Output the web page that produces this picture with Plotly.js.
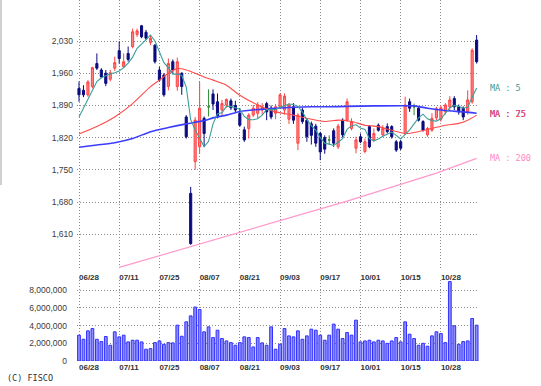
<!DOCTYPE html>
<html>
<head>
<meta charset="utf-8">
<script src="https://cdn.plot.ly/plotly-3.0.1.min.js"></script>
<style>html,body{margin:0;padding:0;background:#fff}#chart{width:541px;height:386px}</style>
</head>
<body>
<div id="chart"></div>
<script>
// Trading days (2024)
const dates = [
 '06/28','07/01','07/02','07/03','07/04','07/05','07/08','07/09','07/10','07/11',
 '07/12','07/16','07/17','07/18','07/19','07/22','07/23','07/24','07/25',
 '07/26','07/29','07/30','07/31','08/01','08/02','08/05','08/06','08/07',
 '08/08','08/09','08/13','08/14','08/15','08/16','08/19','08/20','08/21',
 '08/22','08/23','08/26','08/27','08/28','08/29','08/30','09/02','09/03',
 '09/04','09/05','09/06','09/09','09/10','09/11','09/12','09/13','09/17',
 '09/18','09/19','09/20','09/24','09/25','09/26','09/27','09/30','10/01',
 '10/02','10/03','10/04','10/07','10/08','10/09','10/10','10/11','10/15',
 '10/16','10/17','10/18','10/21','10/22','10/23','10/24','10/25','10/28',
 '10/29','10/30','10/31','11/01','11/05','11/06','11/07','11/08'
];
const tickDates = ['06/28','07/11','07/25','08/07','08/21','09/03','09/17','10/01','10/15','10/28'];

const open = [1927,1923,1913,1931,1981,1967,1960,1947,1971,2009,
 1974,2003,2018,2044,2063,2049,2027,2021,1967,
 1956,1931,1985,1931,1960,1865,1699,1768,1800,
 1862,1887,1915,1898,1880,1891,1900,1890,1873,
 1837,1840,1869,1873,1880,1894,1884,1873,1887,
 1880,1860,1887,1808,1880,1858,1850,1845,1829,
 1820,1815,1835,1800,1858,1858,1840,1797,1822,
 1790,1844,1815,1847,1826,1844,1844,1811,1811,
 1829,1898,1887,1884,1855,1826,1836,1863,1860,
 1876,1887,1905,1887,1884,1876,1898,2032];
const high = [1942,1934,1945,1974,2003,1971,1967,1967,1996,2029,
 2003,2018,2057,2057,2065,2054,2043,2023,1974,
 1960,1992,1990,1994,1962,1869,1713,1865,1941,
 1866,1925,1925,1916,1902,1905,1905,1900,1884,
 1844,1873,1891,1897,1895,1898,1890,1893,1916,
 1916,1895,1895,1873,1885,1862,1855,1850,1833,
 1825,1825,1840,1850,1862,1905,1862,1822,1829,
 1818,1847,1840,1851,1847,1851,1847,1815,1815,
 1909,1905,1894,1887,1858,1843,1873,1887,1890,
 1895,1910,1910,1892,1888,1923,2014,2043];
const low = [1898,1908,1909,1927,1967,1949,1932,1942,1965,1981,
 1971,1985,2014,2039,2036,2032,2021,1981,1942,
 1909,1923,1960,1922,1913,1818,1587,1750,1786,
 1800,1866,1880,1862,1869,1885,1880,1875,1844,
 1811,1818,1865,1862,1870,1858,1860,1860,1884,
 1870,1850,1850,1793,1850,1811,1805,1800,1771,
 1785,1805,1800,1795,1820,1855,1836,1786,1808,
 1786,1797,1811,1833,1822,1829,1818,1789,1793,
 1826,1876,1869,1855,1833,1822,1833,1858,1855,
 1870,1880,1880,1870,1858,1870,1894,1981];
const close = [1913,1913,1941,1972,1971,1952,1938,1961,1983,1992,
 1985,1990,2050,2052,2039,2036,2036,1985,1945,
 1913,1981,1967,1985,1931,1822,1590,1858,1884,
 1829,1887,1893,1865,1894,1903,1885,1880,1847,
 1815,1869,1884,1891,1887,1876,1865,1887,1913,
 1910,1890,1858,1869,1855,1822,1825,1808,1789,
 1795,1815,1808,1845,1826,1898,1855,1815,1811,
 1811,1800,1829,1836,1840,1833,1822,1793,1797,
 1891,1884,1887,1858,1836,1840,1862,1883,1885,
 1891,1902,1887,1876,1865,1902,2010,1985];
const volume = [2.92,2.46,3.41,3.67,2.46,2.20,2.77,1.78,3.30,2.73,
 2.92,2.16,2.35,2.35,2.16,1.33,1.40,2.08,2.27,
 1.89,2.08,2.05,4.05,2.80,4.43,5.10,6.10,5.83,
 3.30,3.86,2.65,3.48,2.54,2.27,2.08,1.78,2.08,
 2.73,2.65,1.59,2.65,2.05,1.78,3.86,1.33,1.89,
 3.67,2.84,2.73,3.41,2.46,2.84,3.60,3.48,2.92,
 2.35,2.92,4.17,3.60,2.54,3.22,2.92,4.62,2.16,
 2.27,2.35,2.16,2.35,2.27,2.00,2.27,2.65,2.16,
 4.43,3.03,2.54,1.78,2.00,1.67,2.84,3.30,3.10,
 2.08,8.98,3.98,1.89,2.20,2.27,4.81,4.05]; // millions of shares

const ma5 = [1865,1885,1905,1925,1942,1950,1955,1959,1961,1965,
 1972,1982,1995,2014,2023,2033,2043,2030,2008,
 1983,1972,1958,1958,1955,1930,1859,1837,1817,
 1800,1812,1850,1872,1874,1888,1888,1885,1882,
 1866,1859,1859,1861,1869,1881,1881,1881,1886,
 1890,1893,1892,1888,1876,1859,1846,1836,1820,
 1808,1806,1803,1810,1818,1838,1846,1848,1841,
 1838,1818,1813,1817,1823,1828,1832,1825,1817,
 1827,1837,1850,1863,1871,1861,1857,1856,1861,
 1872,1885,1890,1888,1884,1886,1908,1928];
const ma25Dates = ['06/28','07/04','07/10','07/17','07/23','07/25','07/29','07/31','08/02','08/06','08/08','08/13','08/16','08/21','08/27','09/02','09/06','09/11','09/18','09/24','09/27','10/02','10/07','10/10','10/16','10/21','10/24','10/29','11/01','11/06','11/08'];
const ma25 = [1828,1844,1865,1894,1931,1945,1960,1970,1967,1960,1952,1945,1934,1912,1891,1876,1869,1862,1855,1858,1855,1847,1844,1836,1829,1833,1840,1847,1851,1858,1869];
const ma75Dates = ['06/28','07/04','07/10','07/17','07/23','07/29','08/02','08/08','08/13','08/16','08/21','08/27','09/02','09/06','09/12','09/19','09/26','10/04','10/18','10/23','10/29','11/05','11/08'];
const ma75 = [1799,1804,1809,1818,1833,1842,1850,1857,1863,1869,1877,1881,1884,1886,1887,1887,1888,1889,1889,1884,1879,1876,1873];
const ma200Dates = ['07/11','07/29','08/27','09/26','10/25','11/08'];
const ma200 = [1538,1569,1626,1682,1743,1775];

const isDoji = close.map((c, i) => c === open[i]);
const pick = (arr, want) => arr.map((v, i) => (isDoji[i] === want ? v : null));

const gridStyle = {showgrid: true, gridcolor: '#8a8a8a', gridwidth: 1, griddash: '1px,2px', zeroline: false, showline: false, ticks: ''};
const yFont = {family: 'Liberation Sans, Arial, sans-serif', size: 8.5, color: '#3a3a3a'};
const xFont = {family: 'Liberation Sans, Arial, sans-serif', size: 8, color: '#333', weight: 700};

const traces = [
  {type: 'bar', x: dates, y: volume.map(v => v * 1e6), xaxis: 'x2', yaxis: 'y2', width: 0.62,
   marker: {color: '#8c8cff', line: {color: '#3030ff', width: 1}}, hoverinfo: 'skip'},
  {type: 'candlestick', x: dates, open: pick(open, false), high: pick(high, false), low: pick(low, false), close: pick(close, false),
   increasing: {line: {color: '#ff4040', width: 1}, fillcolor: '#ff8585'},
   decreasing: {line: {color: '#0a0a80', width: 1}, fillcolor: '#0a0a80'},
   whiskerwidth: 0, xaxis: 'x', yaxis: 'y'},
  {type: 'candlestick', x: dates, open: pick(open, true), high: pick(high, true), low: pick(low, true), close: pick(close, true),
   increasing: {line: {color: '#2f8a2f', width: 1}, fillcolor: '#2f8a2f'},
   decreasing: {line: {color: '#2f8a2f', width: 1}, fillcolor: '#2f8a2f'},
   whiskerwidth: 0, xaxis: 'x', yaxis: 'y'},
  {type: 'scatter', mode: 'lines', x: ma200Dates, y: ma200, line: {color: '#ff99cc', width: 1.2}, xaxis: 'x', yaxis: 'y'},
  {type: 'scatter', mode: 'lines', x: ma75Dates, y: ma75, line: {color: '#3c3cff', width: 1.6, shape: 'spline', smoothing: 0.6}, xaxis: 'x', yaxis: 'y'},
  {type: 'scatter', mode: 'lines', x: ma25Dates, y: ma25, line: {color: '#ff4a4a', width: 1.1, shape: 'spline', smoothing: 0.6}, xaxis: 'x', yaxis: 'y'},
  {type: 'scatter', mode: 'lines', x: dates, y: ma5, line: {color: '#3a9e9a', width: 1.1}, xaxis: 'x', yaxis: 'y'}
];

const H = 386, W = 541, L = 77, R = 479;
const xRange = [-0.448, 89.53];
const legendFont = (c) => ({family: 'DejaVu Sans Mono, monospace', size: 8.5, color: c});
const lx = (488 - L) / (R - L);

const layout = {
  width: W, height: H,
  margin: {l: L, r: W - R, t: 0, b: 0},
  paper_bgcolor: '#ffffff', plot_bgcolor: '#ffffff',
  showlegend: false, boxgap: 0.33,
  xaxis: Object.assign({}, gridStyle, {type: 'category', categoryorder: 'array', categoryarray: dates, range: xRange, anchor: 'y', domain: [0, 1],
    tickmode: 'array', tickvals: tickDates, ticktext: tickDates, tickfont: xFont, ticklabelposition: 'outside right', ticklabelstandoff: 2, rangeslider: {visible: false}, fixedrange: true}),
  xaxis2: Object.assign({}, gridStyle, {type: 'category', categoryorder: 'array', categoryarray: dates, range: xRange, anchor: 'y2', domain: [0, 1], matches: 'x',
    tickmode: 'array', tickvals: tickDates, ticktext: tickDates, tickfont: xFont, ticklabelposition: 'outside right'}),
  yaxis: Object.assign({}, gridStyle, {range: [1534.6, 2119.1], domain: [1 - 269 / H, 1], tickmode: 'array', tickvals: [1610, 1680, 1750, 1820, 1890, 1960, 2030],
    tickformat: ',d', tickfont: yFont, anchor: 'x', ticklabelstandoff: 3}),
  yaxis2: Object.assign({}, gridStyle, {range: [0, 9.16e6], domain: [1 - 361 / H, 1 - 280 / H], tickmode: 'array', tickvals: [0, 2e6, 4e6, 6e6, 8e6],
    tickformat: ',d', tickfont: yFont, anchor: 'x2', ticklabelstandoff: 9}),
  annotations: [
    {xref: 'paper', yref: 'y', x: lx, y: ma5[ma5.length - 1], text: 'MA : 5', showarrow: false, xanchor: 'left', yanchor: 'middle', font: legendFont('#3a9e9a')},
    {xref: 'paper', yref: 'y', x: lx, y: ma75[ma75.length - 1] - 2, text: 'MA : 75', showarrow: false, xanchor: 'left', yanchor: 'middle', font: legendFont('#4a4aff')},
    {xref: 'paper', yref: 'y', x: lx, y: ma75[ma75.length - 1] - 2, text: 'MA : 25', showarrow: false, xanchor: 'left', yanchor: 'middle', font: legendFont('#ff4a4a')},
    {xref: 'paper', yref: 'y', x: lx, y: ma200[ma200.length - 1], text: 'MA : 200', showarrow: false, xanchor: 'left', yanchor: 'middle', font: legendFont('#ff88c4')},
    {xref: 'paper', yref: 'paper', x: (5 - L) / (R - L), y: 1 - 378 / H, text: '(C) FISCO', showarrow: false, xanchor: 'left', yanchor: 'middle',
     font: {family: 'DejaVu Sans Mono, monospace', size: 8.5, color: '#333'}}
  ],
  shapes: [
    {type: 'line', xref: 'paper', yref: 'paper', x0: (1 - L) / (R - L), x1: (1 - L) / (R - L), y0: 1 - 185 / H, y1: 1, line: {color: '#d0d0d0', width: 2}}
  ]
};

Plotly.newPlot('chart', traces, layout, {staticPlot: true, displayModeBar: false});
</script>
</body>
</html>
